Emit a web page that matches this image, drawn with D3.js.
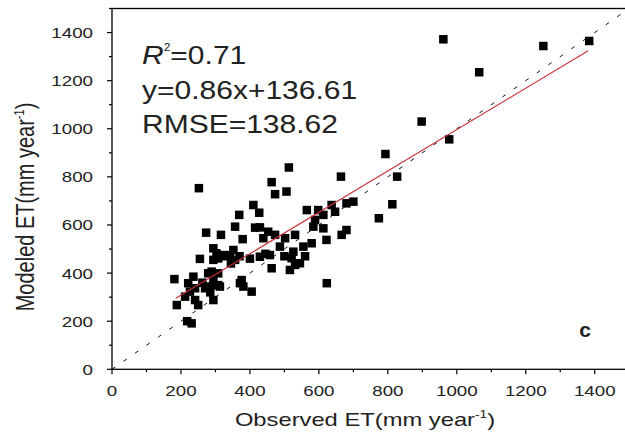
<!DOCTYPE html>
<html>
<head>
<meta charset="utf-8">
<script src="https://cdn.jsdelivr.net/npm/d3@7"></script>
<style>
  body { margin: 0; background: #fff; }
  text { font-family: "Liberation Sans", Arial, sans-serif; fill: #222; }
</style>
</head>
<body>
<div id="scatterplot"></div>
<script>
// observed vs modeled ET (mm/year)
var observedET = [961, 1251, 1384, 1065, 898, 978, 793, 827, 813, 774,
  513, 664, 252, 463, 473, 506, 623,
  410, 427, 369, 273, 316, 357, 379, 415, 429, 453, 473, 439, 502, 487, 531,
  565, 598, 613, 589, 584, 613, 637, 647, 680, 700, 622, 666, 680, 579, 555,
  526, 521, 531, 545, 516,
  429, 458, 463, 294, 303, 294, 318, 342, 352, 357, 255, 289, 308, 279, 294,
  284, 313, 308, 270, 294, 371, 381, 376, 405, 181, 236, 221, 241, 226, 188,
  212, 250, 241, 231, 218, 308,
  330, 345, 370, 400, 445, 500, 560, 285, 262];
var modeledET = [1372, 1344, 1365, 1235, 1030, 956, 895, 801, 686, 628,
  839, 801, 753, 778, 728, 739, 358,
  683, 651, 642, 568, 559, 593, 541, 589, 590, 572, 559, 545, 545, 510, 559,
  662, 662, 642, 621, 593, 586, 683, 655, 690, 697, 538, 559, 579, 524, 510,
  489, 462, 434, 441, 413,
  468, 475, 420, 503, 482, 455, 475, 475, 496, 455, 459, 406, 399, 399, 371,
  344, 344, 350, 337, 288, 358, 344, 371, 323, 375, 385, 358, 337, 323, 267,
  302, 267, 288, 191, 200, 461,
  470, 440, 470, 460, 480, 470, 470, 320, 360];

var xTicks = [0, 200, 400, 600, 800, 1000, 1200, 1400];
var yTicks = [0, 200, 400, 600, 800, 1000, 1200, 1400];
var minorTicks = [100, 300, 500, 700, 900, 1100, 1300, 1500];

// fit line y = 0.86x + 136.61 over the observed range
var fitSlope = 0.86, fitIntercept = 136.61;
var fitRange = [185, 1381];
var statLines = ["=0.71", "y=0.86x+136.61", "RMSE=138.62"];

var width = 625, height = 433;
var stretch = 1.25;  // the source figure is a little wider than tall

var x = d3.scaleLinear().domain([0, 1500]).range([112, 629.2]);
var y = d3.scaleLinear().domain([0, 1500]).range([369.3, 8.5]);

var svg = d3.select("#scatterplot").append("svg")
    .attr("width", width)
    .attr("height", height);

// 1:1 dashed line
svg.append("line")
    .attr("x1", x(0)).attr("y1", y(0))
    .attr("x2", x(1500)).attr("y2", y(1500))
    .attr("stroke", "#111")
    .attr("stroke-width", 1)
    .attr("stroke-dasharray", "4,10");

// dots
svg.selectAll(".dot")
    .data(observedET.map(function(d, i) { return [d, modeledET[i]]; }))
    .enter()
    .append("rect")
    .attr("class", "dot")
    .attr("x", function(d) { return x(d[0]) - 4.25; })
    .attr("y", function(d) { return y(d[1]) - 4.25; })
    .attr("width", 8.5)
    .attr("height", 8.5)
    .attr("fill", "#000");

// regression line
svg.append("line")
    .attr("x1", x(fitRange[0])).attr("y1", y(fitSlope * fitRange[0] + fitIntercept))
    .attr("x2", x(fitRange[1])).attr("y2", y(fitSlope * fitRange[1] + fitIntercept))
    .attr("stroke", "#c8323a")
    .attr("stroke-width", 1.1);

// frame
svg.append("rect")
    .attr("x", x(0)).attr("y", y(1500))
    .attr("width", x(1500) - x(0))
    .attr("height", y(0) - y(1500))
    .attr("fill", "none")
    .attr("stroke", "#000")
    .attr("stroke-width", 1.3);

// x ticks
svg.selectAll(".xmajor").data(xTicks).enter().append("line")
    .attr("x1", function(d) { return x(d); }).attr("x2", function(d) { return x(d); })
    .attr("y1", y(0)).attr("y2", y(0) + 5)
    .attr("stroke", "#000").attr("stroke-width", 1.2);
svg.selectAll(".xminor").data(minorTicks).enter().append("line")
    .attr("x1", function(d) { return x(d); }).attr("x2", function(d) { return x(d); })
    .attr("y1", y(0)).attr("y2", y(0) + 3)
    .attr("stroke", "#000").attr("stroke-width", 1.2);
svg.selectAll(".xlabel").data(xTicks).enter().append("text")
    .attr("transform", function(d) { return "translate(" + x(d) + ",396) scale(" + stretch + ",1)"; })
    .attr("text-anchor", "middle")
    .style("font-size", "15px")
    .text(function(d) { return d; });

// y ticks
svg.selectAll(".ymajor").data(yTicks).enter().append("line")
    .attr("x1", x(0) - 5).attr("x2", x(0))
    .attr("y1", function(d) { return y(d); }).attr("y2", function(d) { return y(d); })
    .attr("stroke", "#000").attr("stroke-width", 1.2);
svg.selectAll(".yminor").data(minorTicks).enter().append("line")
    .attr("x1", x(0) - 3).attr("x2", x(0))
    .attr("y1", function(d) { return y(d); }).attr("y2", function(d) { return y(d); })
    .attr("stroke", "#000").attr("stroke-width", 1.2);
svg.selectAll(".ylabel").data(yTicks).enter().append("text")
    .attr("transform", function(d) { return "translate(93," + (y(d) + 5.5) + ") scale(" + stretch + ",1)"; })
    .attr("text-anchor", "end")
    .style("font-size", "15px")
    .text(function(d) { return d; });

// axis titles
var xTitle = svg.append("text")
    .attr("transform", "translate(365,426) scale(" + stretch + ",1)")
    .attr("text-anchor", "middle")
    .style("font-size", "19px");
xTitle.append("tspan").text("Observed ET(mm year");
xTitle.append("tspan").attr("dy", -8).style("font-size", "11px").text("-1");
xTitle.append("tspan").attr("dy", 8).text(")");

var yTitle = svg.append("text")
    .attr("transform", "translate(34,207) scale(" + stretch + ",1) rotate(-90)")
    .attr("text-anchor", "middle")
    .style("font-size", "20px");
yTitle.append("tspan").text("Modeled ET(mm year");
yTitle.append("tspan").attr("dy", -8).style("font-size", "11px").text("-1");
yTitle.append("tspan").attr("dy", 8).text(")");

// stats
var stats = svg.append("g")
    .attr("transform", "translate(142,0) scale(1.2,1)");
var r2 = stats.append("text").attr("y", 64).style("font-size", "25px");
r2.append("tspan").style("font-style", "italic").text("R");
r2.append("tspan").attr("dx", 0).attr("dy", -13).style("font-size", "10px").text("2");
r2.append("tspan").attr("dy", 13).text(statLines[0]);
stats.append("text").attr("y", 99).style("font-size", "25px").text(statLines[1]);
stats.append("text").attr("y", 133).style("font-size", "25px").text(statLines[2]);

// panel letter
svg.append("text")
    .attr("x", 585).attr("y", 337)
    .attr("text-anchor", "middle")
    .style("font-size", "21px")
    .style("font-weight", "bold")
    .text("c");
</script>
</body>
</html>
